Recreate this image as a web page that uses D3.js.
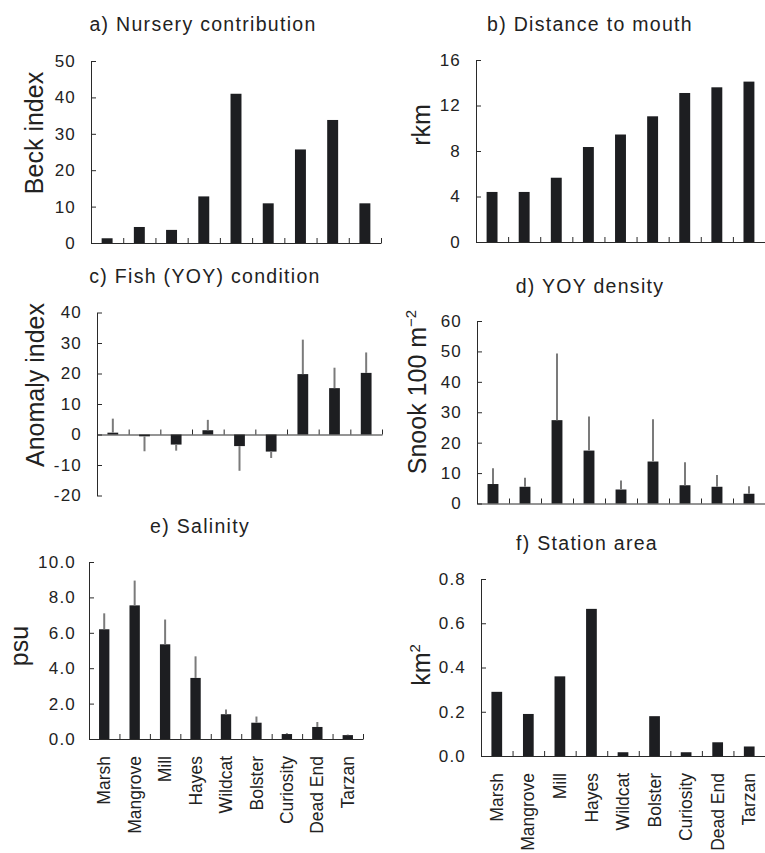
<!DOCTYPE html>
<html>
<head>
<meta charset="utf-8">
<script src="https://cdn.jsdelivr.net/npm/d3@7"></script>
<style>
    body { margin: 0; background: #fff; }
    svg { display: block; font-family: "Liberation Sans", Arial, Helvetica, sans-serif; }
</style>
</head>
<body>
<svg width="765" height="853"></svg>
<script>
// stations, upstream order
var sites = ["Marsh", "Mangrove", "Mill", "Hayes", "Wildcat", "Bolster", "Curiosity", "Dead End", "Tarzan"];

// a) Beck index
var nursery = [1.3, 4.4, 3.6, 12.8, 41.0, 10.9, 25.7, 33.8, 10.9];
// b) rkm
var distance = [4.4, 4.4, 5.65, 8.35, 9.45, 11.05, 13.1, 13.6, 14.1];
// c) anomaly index, mean and SE
var condition = [0.6, -0.6, -3.3, 1.4, -3.8, -5.6, 19.8, 15.2, 20.2];
var conditionSE = [4.6, 4.9, 2.0, 3.4, 8.1, 2.1, 11.3, 6.7, 6.7];
// d) snook per 100 m2, mean and SE
var density = [6.4, 5.5, 27.4, 17.4, 4.6, 13.8, 6.0, 5.5, 3.2];
var densitySE = [5.2, 3.0, 21.9, 11.2, 3.0, 13.9, 7.6, 3.9, 2.5];
// e) psu, mean and SE
var salinity = [6.2, 7.55, 5.35, 3.45, 1.4, 0.92, 0.28, 0.68, 0.22];
var salinitySE = [0.9, 1.4, 1.4, 1.22, 0.27, 0.35, 0.05, 0.28, 0.03];
// f) km2
var area = [0.29, 0.19, 0.36, 0.665, 0.017, 0.18, 0.017, 0.062, 0.043];

var ticksA = [0, 10, 20, 30, 40, 50];
var ticksB = [0, 4, 8, 12, 16];
var ticksC = [-20, -10, 0, 10, 20, 30, 40];
var ticksD = [0, 10, 20, 30, 40, 50, 60];
var ticksE = [0, 2, 4, 6, 8, 10];
var ticksF = [0, 0.2, 0.4, 0.6, 0.8];

(function() {
    var svg = d3.select('svg');
    var ink = '#1d1e21';
    var plain = function(d) { return String(d); };  // keep "-" hyphen

    var panels = [
        { title: 'a) Nursery contribution', tx: 203, ty: 31, label: ['Beck index'], lx: 43, ly: 133,
          values: nursery, ticks: ticksA, fmt: plain,
          left: 91, right: 381, top: 61, bottom: 243 },
        { title: 'b) Distance to mouth', tx: 590, ty: 31, label: ['rkm'], lx: 430, ly: 125,
          values: distance, ticks: ticksB, fmt: plain,
          left: 476, right: 765, top: 60, bottom: 242 },
        { title: 'c) Fish (YOY) condition', tx: 205, ty: 283, label: ['Anomaly index'], lx: 44, ly: 385,
          values: condition, se: conditionSE, ticks: ticksC, fmt: plain,
          left: 97, right: 382, top: 312.5, bottom: 495.5 },
        { title: 'd) YOY density', tx: 590, ty: 293, label: ['Snook 100 m', '\u22122'], lx: 426, ly: 392,
          values: density, se: densitySE, ticks: ticksD, fmt: plain,
          left: 477, right: 765, top: 321, bottom: 503.5 },
        { title: 'e) Salinity', tx: 200, ty: 533, label: ['psu'], lx: 28, ly: 646,
          values: salinity, se: salinitySE, ticks: ticksE, fmt: d3.format('.1f'), pad: 13,
          left: 89, right: 363, top: 562, bottom: 739, names: true },
        { title: 'f) Station area', tx: 587, ty: 550, label: ['km', '2'], lx: 430, ly: 665,
          values: area, ticks: ticksF, fmt: d3.format('.1f'),
          left: 481, right: 765, top: 579, bottom: 756, names: true }
    ];

    panels.forEach(function(p) { drawPanel(p); });

    function drawPanel(p) {
        var g = svg.append('g');
        var ext = d3.extent(p.ticks);
        var y = d3.scaleLinear().domain(ext).range([p.bottom, p.top]);
        var x = d3.scaleBand().domain(sites).range([p.left, p.right]).padding(0);
        var bw = x.bandwidth();
        // boundaries between stations, for the x ticks
        var xb = d3.scaleLinear().domain([0, sites.length]).range([p.left, p.right]);

        // bars
        g.selectAll('rect.bar')
            .data(p.values)
            .enter().append('rect')
            .attr('class', 'bar')
            .attr('x', function(d, i) { return x(sites[i]) + bw * 0.33; })
            .attr('width', bw * 0.34)
            .attr('y', function(d) { return y(Math.max(0, d)); })
            .attr('height', function(d) { return Math.abs(y(d) - y(0)); })
            .style('fill', ink);

        // one-sided error bars
        if (p.se) {
            g.selectAll('line.err')
                .data(p.values)
                .enter().append('line')
                .attr('class', 'err')
                .attr('x1', function(d, i) { return x(sites[i]) + bw / 2; })
                .attr('x2', function(d, i) { return x(sites[i]) + bw / 2; })
                .attr('y1', function(d) { return y(d); })
                .attr('y2', function(d, i) { return y(d + (d < 0 ? -1 : 1) * p.se[i]); })
                .style('stroke', '#7b7b7b')
                .style('stroke-width', 2);
        }

        // y axis, ticks inside
        var ya = g.append('g')
            .attr('transform', 'translate(' + p.left + ',0)')
            .call(d3.axisLeft(y).tickValues(p.ticks).tickFormat(p.fmt)
                .tickSizeInner(-5).tickSizeOuter(0).tickPadding(p.pad || 15));

        // x axis at zero, ticks up between stations
        var xa = g.append('g')
            .attr('transform', 'translate(0,' + y(0) + ')')
            .call(d3.axisBottom(xb).tickValues(d3.range(1, sites.length + 1))
                .tickFormat('').tickSizeInner(-5).tickSizeOuter(0));

        [ya, xa].forEach(function(a) {
            a.select('.domain').style('stroke', '#2a2a2a');
            a.selectAll('.tick line').style('stroke', '#2a2a2a');
        });
        ya.selectAll('.tick text')
            .style('font-size', '17px')
            .style('letter-spacing', '1.2px')
            .style('fill', '#222')
            .style('font-family', '"Liberation Sans", Arial, sans-serif');

        // title
        g.append('text')
            .attr('x', p.tx)
            .attr('y', p.ty)
            .attr('text-anchor', 'middle')
            .style('font-size', '19.5px')
            .style('letter-spacing', '1.3px')
            .style('fill', '#222')
            .text(p.title);

        // y label
        var lab = g.append('text')
            .attr('transform', 'translate(' + p.lx + ',' + p.ly + ') rotate(-90)')
            .attr('text-anchor', 'middle')
            .style('font-size', '25px')
            .style('fill', '#222')
            .text(p.label[0]);
        if (p.label[1]) {
            lab.append('tspan')
                .attr('dy', -10)
                .style('font-size', '15px')
                .text(p.label[1]);
        }

        // station names under bottom row
        if (p.names) {
            g.selectAll('text.site')
                .data(sites)
                .enter().append('text')
                .attr('class', 'site')
                .attr('transform', function(d) {
                    return 'translate(' + (x(d) + bw / 2) + ',' + (p.bottom + 17) + ') rotate(-90)';
                })
                .attr('dy', '0.35em')
                .attr('text-anchor', 'end')
                .style('font-size', '17.5px')
                .style('fill', '#222')
                .text(function(d) { return d; });
        }
    }
})();
</script>
</body>
</html>
